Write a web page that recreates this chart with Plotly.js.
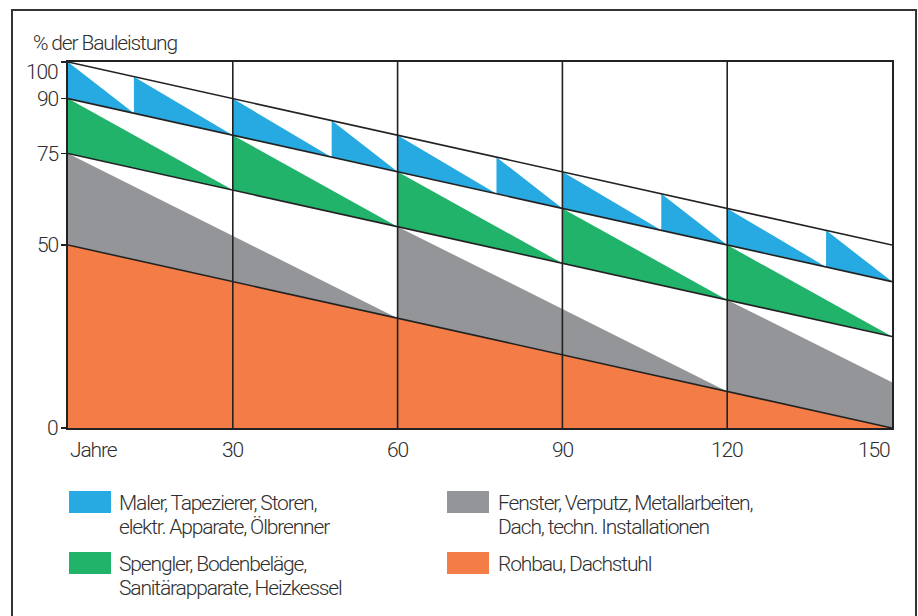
<!DOCTYPE html>
<html>
<head>
<meta charset="utf-8">
<script src="https://cdn.plot.ly/plotly-3.0.1.min.js"></script>
<style>
html,body{margin:0;padding:0;background:#fff;}
#chart{width:918px;height:616px;}
text{letter-spacing:-1.15px;}
</style>
</head>
<body>
<div id="chart"></div>
<script>
// ---- data ----
const xTickVals = [0, 30, 60, 90, 120, 150];
const xTickText = ["Jahre", "30", "60", "90", "120", "150"];
const yTickVals = [0, 50, 75, 90, 100];
const yTickText = ["0", "50", "75", "90", "100"];

// band boundary lines (x = 0 and x = 150)
const bandX = [0, 150];
const line100 = [100, 50];
const line90 = [90, 40];
const line75 = [75, 25];
const line50 = [50, 0];

// Rohbau, Dachstuhl (orange)
const orangeX = [0, 150];
const orangeY = [50, 0];
// Fenster, Verputz ... (gray) sawtooth top
const grayX = [0, 60, 60, 120, 120, 150];
const grayY = [75, 30, 55, 10, 35, 12.5];
// Spengler ... (green) sawtooth top
const greenX = [0, 30, 30, 60, 60, 90, 90, 120, 120, 150];
const greenY = [90, 65, 80, 55, 70, 45, 60, 35, 50, 25];
// Maler ... (blue) sawtooth top
const blueX = [0, 12, 12, 30, 30, 48, 48, 60, 60, 78, 78, 90, 90, 108, 108, 120, 120, 138, 138, 150];
const blueY = [100, 86, 96, 80, 90, 74, 84, 70, 80, 64, 74, 60, 70, 54, 64, 50, 60, 44, 54, 40];

const legendLabels = [
  ["Maler, Tapezierer, Storen,", "elektr. Apparate, Ölbrenner"],
  ["Spengler, Bodenbeläge,", "Sanitärapparate, Heizkessel"],
  ["Fenster, Verputz, Metallarbeiten,", "Dach, techn. Installationen"],
  ["Rohbau, Dachstuhl"]
];
const titleText = "% der Bauleistung";

// ---- styles ----
const C_BLUE = "#27a9e1", C_GREEN = "#21b36a", C_GRAY = "#939598", C_ORANGE = "#f47c46";
const legendColors = [C_BLUE, C_GREEN, C_GRAY, C_ORANGE];
const INK = "#222";
const TXT = "#2e2e2e";
const FONT = "Roboto, Liberation Sans, sans-serif";
const FS = 21;

const L = 68, R = 892, T = 62, B = 428, W = 918, H = 616;
const px = x => (x - L) / (R - L);
const py = y => (B - y) / (B - T);

const noLine = {width: 0};
const traces = [
  {x: orangeX, y: orangeY, mode: "lines", line: noLine, fill: "tozeroy", fillcolor: C_ORANGE, hoverinfo: "skip"},
  {x: grayX, y: grayY, mode: "lines", line: noLine, fill: "tonexty", fillcolor: C_GRAY, hoverinfo: "skip"},
  {x: bandX, y: line75, mode: "lines", line: noLine, hoverinfo: "skip"},
  {x: greenX, y: greenY, mode: "lines", line: noLine, fill: "tonexty", fillcolor: C_GREEN, hoverinfo: "skip"},
  {x: bandX, y: line90, mode: "lines", line: noLine, hoverinfo: "skip"},
  {x: blueX, y: blueY, mode: "lines", line: noLine, fill: "tonexty", fillcolor: C_BLUE, hoverinfo: "skip"}
];

// black band lines
[line100, line90, line75, line50].forEach(l => {
  traces.push({x: bandX, y: l, mode: "lines", line: {color: INK, width: 1.6}, hoverinfo: "skip"});
});
// vertical lines at each 30-year tick
const vx = [], vy = [];
xTickVals.slice(1, -1).forEach(t => { vx.push(t, t, null); vy.push(0, 100, null); });
traces.push({x: vx, y: vy, mode: "lines", line: {color: INK, width: 1.6}, hoverinfo: "skip"});

const annotations = [];
const font = {family: FONT, size: FS, color: TXT, weight: 300};
// title
annotations.push({xref: "paper", yref: "paper", x: px(31), y: py(43), xanchor: "left", yanchor: "middle",
  text: titleText, showarrow: false, font: font});
// y labels
yTickVals.forEach((v, i) => {
  annotations.push({xref: "paper", yref: "y", x: px(60), y: v, xanchor: "right", yanchor: "middle",
    yshift: v === 100 ? -10 : 0,
    text: yTickText[i], showarrow: false, font: font});
});
// x labels
xTickVals.forEach((v, i) => {
  let anchor = "center";
  if (i === 0) anchor = "left";
  if (i === xTickVals.length - 1) anchor = "right";
  annotations.push({xref: "x", yref: "paper", x: v, y: py(450), xanchor: anchor, yanchor: "middle",
    text: xTickText[i], showarrow: false, font: font});
});

const shapes = [];
// legend
const colX = [[69, 117], [447, 496]];
const rowY = [[491, 513, 503, 527], [552, 574, 564, 588]];
legendLabels.forEach((lines, k) => {
  const col = Math.floor(k / 2), row = k % 2;
  shapes.push({type: "rect", xref: "paper", yref: "paper",
    x0: px(colX[col][0]), x1: px(colX[col][0] + 42), y0: py(rowY[row][0]), y1: py(rowY[row][1]),
    fillcolor: legendColors[k], line: {width: 0}});
  lines.forEach((s, j) => {
    annotations.push({xref: "paper", yref: "paper", x: px(colX[col][1]), y: py(rowY[row][2 + j]),
      xanchor: "left", yanchor: "middle", text: s, showarrow: false, font: font});
  });
});
// outer frame
shapes.push({type: "rect", xref: "paper", yref: "paper", x0: px(12), x1: px(916), y0: py(10), y1: py(640),
  line: {color: "#333", width: 2}, fillcolor: "rgba(0,0,0,0)", layer: "above"});

const layout = {
  width: W, height: H,
  margin: {l: L, r: W - R, t: T, b: H - B, pad: 0},
  paper_bgcolor: "#fff", plot_bgcolor: "#fff",
  showlegend: false,
  xaxis: {range: [0, 150], showgrid: false, zeroline: false, showticklabels: false, ticks: "",
    showline: true, mirror: true, linecolor: INK, linewidth: 1.6, layer: "above traces", fixedrange: true},
  yaxis: {range: [0, 100], showgrid: false, zeroline: false, showticklabels: false,
    tickvals: yTickVals, ticks: "outside", ticklen: 5, tickcolor: INK, tickwidth: 1.6,
    showline: true, mirror: true, linecolor: INK, linewidth: 1.6, layer: "above traces", fixedrange: true},
  annotations: annotations,
  shapes: shapes
};

Plotly.newPlot("chart", traces, layout, {displayModeBar: false, staticPlot: true});
</script>
</body>
</html>
